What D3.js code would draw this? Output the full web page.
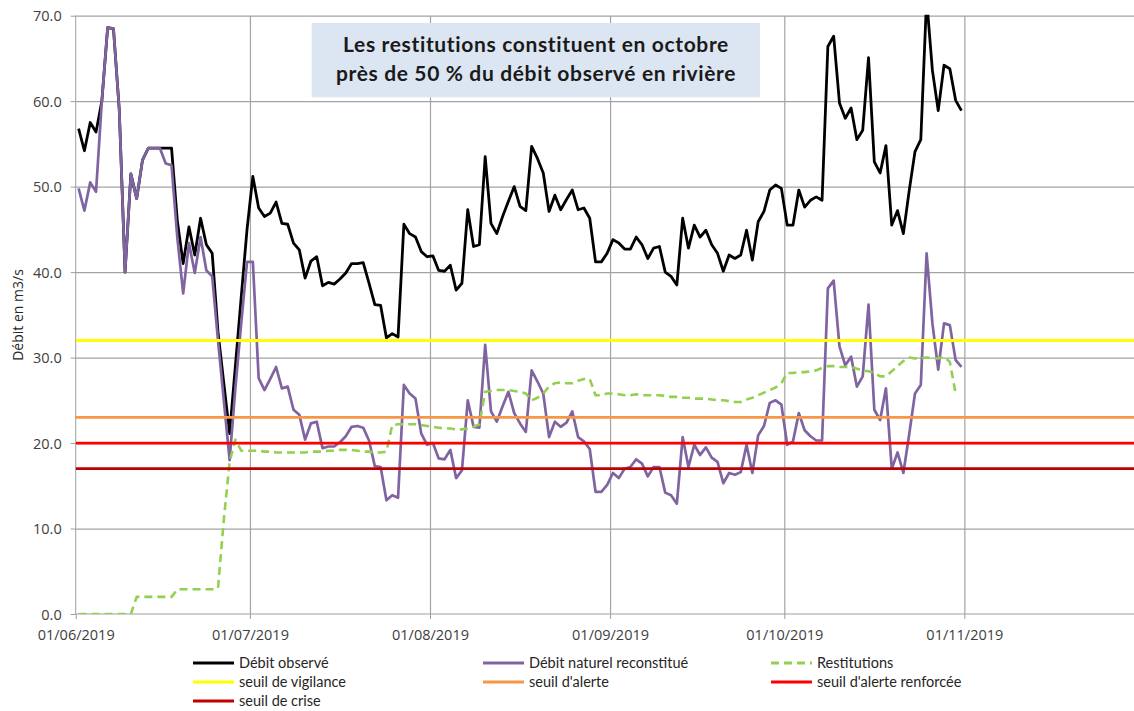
<!DOCTYPE html>
<html lang="fr">
<head>
<meta charset="utf-8">
<title>Débits et restitutions - 2019</title>
<script src="https://d3js.org/d3.v7.min.js"></script>
<style>
  html, body { margin: 0; padding: 0; background: #fff; overflow: hidden; }
  svg { display: block; font-family: "Open Sans", sans-serif; }
  .axis text { font-size: 14.5px; fill: #404040; font-family: "Open Sans", sans-serif; }
  .axis path, .axis line { stroke: #9e9e9e; }
  .grid line { stroke: #a3a3a3; stroke-width: 1.2px; }
  .grid path { display: none; }
  .legend text { font-family: Lato, sans-serif; font-size: 14.5px; fill: #262626; }
  .title text { font-family: Lato, sans-serif; font-weight: bold; font-size: 21px; letter-spacing: 0.65px; fill: #1a1a1a; }
</style>
</head>
<body>
<div id="chart"></div>
<script>
// first day of the daily series
const startDate = "2019-06-01";

// Débit observé (m3/s), one value per day from 01/06/2019
const debitObserve = [
  56.8, 54.2, 57.5, 56.4, 60.0, 68.6, 68.5, 59.0, 40.0, 51.5,
  48.6, 53.1, 54.5, 54.5, 54.5, 54.5, 54.5, 46.0, 41.0, 45.3,
  42.0, 46.3, 43.2, 42.2, 33.0, 27.0, 21.1, 29.1, 37.1, 45.0,
  51.2, 47.5, 46.5, 46.9, 48.2, 45.7, 45.6, 43.4, 42.6, 39.3,
  41.3, 41.8, 38.4, 38.8, 38.6, 39.2, 39.9, 41.0, 41.0, 41.1,
  38.7, 36.2, 36.1, 32.3, 32.8, 32.4, 45.6, 44.5, 44.1, 42.4,
  41.8, 41.9, 40.2, 40.1, 40.8, 37.9, 38.7, 47.3, 43.0, 43.2,
  53.5, 45.7, 44.5, 46.5, 48.3, 50.0, 47.7, 47.2, 54.7, 53.3,
  51.6, 47.1, 49.0, 47.3, 48.5, 49.6, 47.3, 47.5, 46.3, 41.2,
  41.2, 42.2, 43.8, 43.4, 42.7, 42.7, 44.1, 43.2, 41.6, 42.8,
  43.0, 40.0, 39.5, 38.5, 46.3, 42.8, 45.5, 44.1, 44.9, 43.2,
  42.2, 40.1, 42.0, 41.6, 42.0, 44.9, 41.4, 45.9, 47.1, 49.6,
  50.2, 49.8, 45.5, 45.5, 49.6, 47.6, 48.4, 48.8, 48.4, 66.4,
  67.6, 59.8, 58.0, 59.2, 55.5, 56.6, 65.1, 52.9, 51.6, 54.8,
  45.5, 47.2, 44.5, 49.5, 54.1, 55.5, 72.0, 63.6, 58.9, 64.2,
  63.8, 60.1, 58.9
];

// Débit naturel reconstitué (m3/s)
const debitNaturel = [
  49.8, 47.2, 50.5, 49.4, 60.0, 68.6, 68.5, 59.0, 40.0, 51.5,
  48.6, 53.1, 54.5, 54.5, 54.5, 52.7, 52.5, 44.0, 37.5, 43.4,
  39.9, 44.1, 40.2, 39.5, 32.0, 25.0, 18.0, 26.5, 34.0, 41.2,
  41.2, 27.6, 26.2, 27.5, 28.9, 26.4, 26.6, 23.9, 23.3, 20.4,
  22.3, 22.5, 19.4, 19.6, 19.6, 20.1, 20.8, 21.9, 22.0, 21.8,
  20.3, 17.3, 17.2, 13.3, 13.9, 13.6, 26.8, 25.8, 25.2, 21.1,
  19.8, 20.0, 18.2, 18.1, 19.2, 15.9, 16.8, 25.0, 21.9, 21.8,
  31.5, 23.7, 22.5, 24.3, 26.0, 23.5, 22.3, 21.3, 28.5, 27.2,
  25.8, 20.7, 22.5, 21.9, 22.4, 23.7, 20.7, 20.2, 19.3, 14.3,
  14.3, 15.1, 16.5, 15.9, 17.0, 17.2, 18.1, 17.6, 16.1, 17.2,
  17.2, 14.2, 13.9, 12.9, 20.7, 17.2, 19.8, 18.6, 19.5, 18.3,
  17.8, 15.3, 16.5, 16.3, 16.6, 19.8, 16.5, 20.9, 22.0, 24.7,
  25.0, 24.5, 19.8, 20.2, 23.5, 21.5, 20.8, 20.3, 20.3, 38.1,
  39.0, 31.3, 29.1, 30.1, 26.6, 27.8, 36.2, 23.9, 22.7, 26.4,
  17.0, 18.9, 16.5, 21.0, 25.8, 26.8, 42.2, 34.0, 28.6, 34.0,
  33.8, 29.7, 28.9
];

// Restitutions (m3/s)
const restitutions = [
  0.0, 0.0, 0.0, 0.0, 0.0, 0.0, 0.0, 0.0, 0.0, 0.0,
  2.0, 2.0, 2.0, 2.0, 2.0, 2.0, 2.0, 2.9, 2.9, 2.9,
  2.9, 2.9, 2.9, 2.9, 3.0, 11.0, 17.8, 20.4, 19.1, 19.1,
  19.1, 19.1, 19.0, 19.0, 18.9, 18.9, 18.9, 18.9, 18.9, 18.9,
  19.0, 19.0, 19.0, 19.1, 19.1, 19.2, 19.2, 19.2, 19.1, 19.0,
  19.0, 18.9, 18.9, 19.0, 22.1, 22.2, 22.2, 22.2, 22.2, 22.1,
  22.0, 21.9, 21.8, 21.7, 21.7, 21.6, 21.6, 21.7, 21.9, 22.2,
  26.0, 26.1, 26.2, 26.2, 26.2, 26.1, 26.0, 25.8, 25.0, 25.3,
  25.8, 26.6, 27.0, 27.1, 27.0, 27.0, 27.3, 27.5, 27.5, 25.6,
  25.6, 25.8, 25.8, 25.7, 25.6, 25.6, 25.7, 25.6, 25.6, 25.6,
  25.6, 25.5, 25.4, 25.4, 25.3, 25.3, 25.2, 25.2, 25.2, 25.1,
  25.0, 25.0, 24.9, 24.8, 24.8, 25.1, 25.3, 25.6, 25.9, 26.2,
  26.5, 27.0, 28.2, 28.2, 28.3, 28.3, 28.4, 28.5, 28.8, 29.0,
  29.0, 28.9, 28.9, 28.9, 28.7, 28.5, 28.4, 28.2, 27.8, 27.8,
  28.4, 29.0, 29.6, 30.0, 29.9, 29.9, 30.0, 29.9, 29.9, 30.1,
  29.5, 25.8
];

// seuils réglementaires (m3/s)
const seuilNames = ["seuil de vigilance", "seuil d'alerte", "seuil d'alerte renforcée", "seuil de crise"];
const seuilValues = [32, 23, 20, 17];

// axes
const monthTicks = ["2019-06-01", "2019-07-01", "2019-08-01", "2019-09-01", "2019-10-01", "2019-11-01"];
const axisEnd = "2019-12-01";
const yTicks = [0, 10, 20, 30, 40, 50, 60, 70];

const titleLines = ["Les restitutions constituent en octobre", "près de 50 % du débit observé en rivière"];
const yLabel = "Débit en m3/s";

// ---------------------------------------------------------------------------

const W = 1134, H = 711;
const plot = { left: 75.7, right: 1138.6, top: 15.7, bottom: 614 };

const parse = d3.utcParse("%Y-%m-%d");
const t0 = parse(startDate);
const dayCentre = i => d3.utcHour.offset(d3.utcDay.offset(t0, i), 12);

const x = d3.scaleUtc()
    .domain([parse(monthTicks[0]), parse(axisEnd)])
    .range([plot.left, plot.right]);
const y = d3.scaleLinear()
    .domain([0, 70])
    .range([plot.bottom, plot.top]);

const svg = d3.select("#chart").append("svg")
    .attr("width", W)
    .attr("height", H);

svg.append("defs").append("clipPath")
    .attr("id", "plot-clip")
    .append("rect")
    .attr("x", plot.left)
    .attr("y", plot.top - 1)
    .attr("width", plot.right - plot.left)
    .attr("height", plot.bottom - plot.top + 1);

// horizontal grid
svg.append("g")
    .attr("class", "grid")
    .attr("transform", "translate(" + plot.left + ",0)")
    .call(d3.axisLeft(y).tickValues(yTicks.slice(1)).tickSize(-(plot.right - plot.left)).tickFormat(""));

// vertical grid at month starts
svg.append("g")
    .attr("class", "grid")
    .attr("transform", "translate(0," + plot.bottom + ")")
    .call(d3.axisBottom(x).tickValues(monthTicks.slice(1).map(parse)).tickSize(-(plot.bottom - plot.top)).tickFormat(""));

// axes
const yAxis = svg.append("g")
    .attr("class", "axis")
    .attr("transform", "translate(" + plot.left + ",0)")
    .call(d3.axisLeft(y).tickValues(yTicks).tickSize(5).tickPadding(9).tickFormat(d3.format(".1f")));
yAxis.select(".domain").attr("d", "M0," + plot.bottom + "V" + plot.top);
yAxis.selectAll("text").attr("dy", "0.35em");

const xAxis = svg.append("g")
    .attr("class", "axis")
    .attr("transform", "translate(0," + plot.bottom + ")")
    .call(d3.axisBottom(x).tickValues(monthTicks.map(parse)).tickSize(5).tickFormat(d3.utcFormat("%d/%m/%Y")));
xAxis.select(".domain").attr("d", "M" + plot.left + ",0H" + plot.right);
xAxis.selectAll("text").attr("y", 26).attr("dy", null);

// series
const series = [
  { key: "obs", label: "Débit observé", values: debitObserve, color: "#000000", width: 2.8, dash: null },
  { key: "nat", label: "Débit naturel reconstitué", values: debitNaturel, color: "#8064A2", width: 2.7, dash: null },
  { key: "rest", label: "Restitutions", values: restitutions, color: "#92D050", width: 2.6, dash: "8,5" }
];
const seuilColors = ["#FFFF00", "#F79646", "#FF0000", "#C00000"];

const line = d3.line()
    .x((d, i) => x(dayCentre(i)))
    .y(d => y(d));

const plotG = svg.append("g").attr("clip-path", "url(#plot-clip)");

plotG.selectAll("path.series")
    .data(series)
    .join("path")
    .attr("class", "series")
    .attr("fill", "none")
    .attr("stroke", d => d.color)
    .attr("stroke-width", d => d.width)
    .attr("stroke-linejoin", "round")
    .attr("stroke-dasharray", d => d.dash)
    .attr("d", d => line(d.values));

plotG.selectAll("line.seuil")
    .data(seuilValues)
    .join("line")
    .attr("class", "seuil")
    .attr("x1", x(parse(monthTicks[0])))
    .attr("x2", x(parse(axisEnd)))
    .attr("y1", d => y(d))
    .attr("y2", d => y(d))
    .attr("stroke", (d, i) => seuilColors[i])
    .attr("stroke-width", 2.8);

// title box
const title = svg.append("g").attr("class", "title");
title.append("rect")
    .attr("x", 311.7).attr("y", 23)
    .attr("width", 448.3).attr("height", 74.3)
    .attr("fill", "#DCE6F2");
title.selectAll("text")
    .data(titleLines)
    .join("text")
    .attr("x", 536)
    .attr("y", (d, i) => 52 + i * 29.3)
    .attr("text-anchor", "middle")
    .text(d => d);

// y label
svg.append("text")
    .attr("transform", "translate(23,315) rotate(-90)")
    .attr("text-anchor", "middle")
    .style("font-size", "14px")
    .style("fill", "#262626")
    .text(yLabel);

// legend
const legendItems = series.map(s => ({ label: s.label, color: s.color, dash: s.dash }))
    .concat(seuilNames.map((n, i) => ({ label: n, color: seuilColors[i], dash: null })));
const legendCols = [193, 483, 771];
const legendRows = [663, 682, 701];

const legend = svg.append("g").attr("class", "legend");
const item = legend.selectAll("g")
    .data(legendItems)
    .join("g")
    .attr("transform", (d, i) => "translate(" + legendCols[i % 3] + "," + legendRows[Math.floor(i / 3)] + ")");
item.append("line")
    .attr("x1", 0).attr("x2", 41)
    .attr("stroke", d => d.color)
    .attr("stroke-width", 2.8)
    .attr("stroke-dasharray", d => d.dash);
item.append("text")
    .attr("x", 46)
    .attr("dy", "0.35em")
    .text(d => d.label);
</script>
</body>
</html>
